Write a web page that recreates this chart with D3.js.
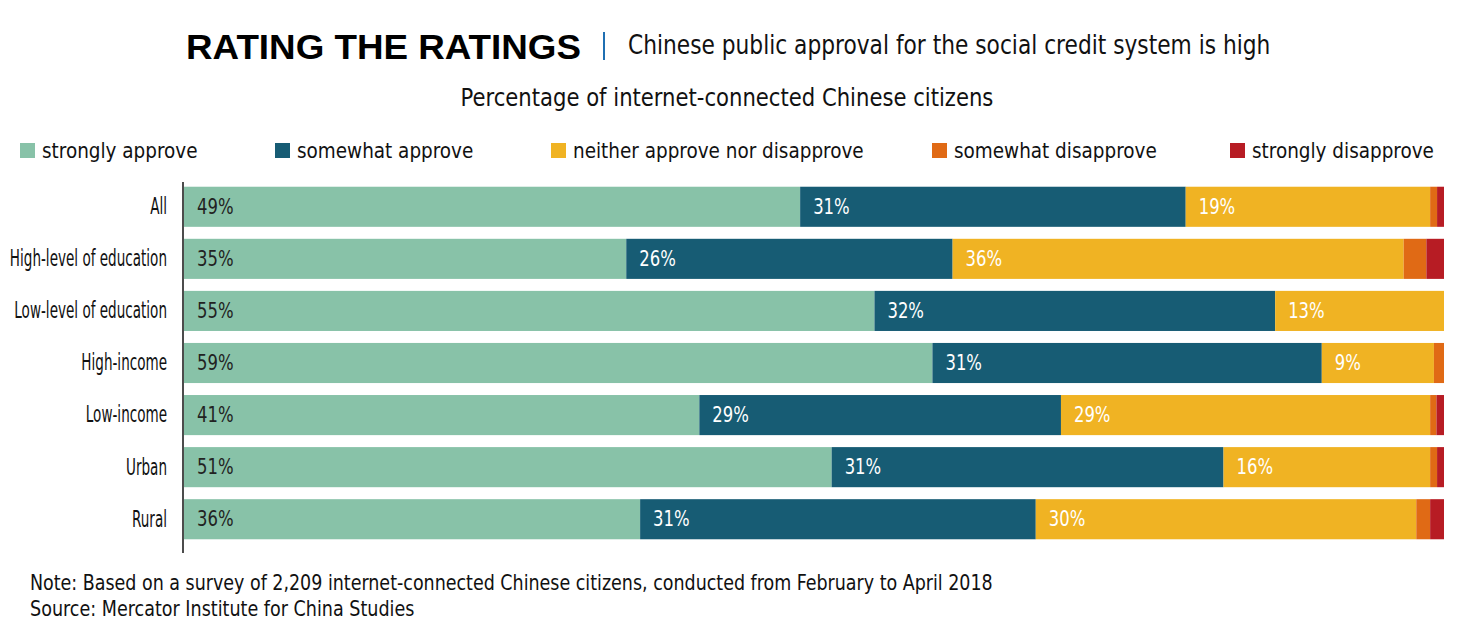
<!DOCTYPE html>
<html>
<head>
<meta charset="utf-8">
<script src="https://cdn.jsdelivr.net/npm/d3@7"></script>
<style>
  body { margin: 0; background: #fff; }
  svg { display: block; }
</style>
</head>
<body>
<svg id="chart" width="1467" height="629"></svg>
<script>
// groups, top to bottom
var groups = ["All", "High-level of education", "Low-level of education", "High-income", "Low-income", "Urban", "Rural"];

// answers, stacked left to right
var answers = ["strongly approve", "somewhat approve", "neither approve nor disapprove", "somewhat disapprove", "strongly disapprove"];
var colors = ["#88c2a8", "#175c74", "#f0b323", "#e06a15", "#b71c24"];

// shares in percent (one per group)
var stronglyApprove    = [48.9, 35.1, 54.8, 59.4, 40.9, 51.4, 36.2];
var somewhatApprove    = [30.6, 25.9, 31.8, 30.9, 28.7, 31.1, 31.4];
var neither            = [19.4, 35.8, 13.4, 8.9, 29.3, 16.4, 30.2];
var somewhatDisapprove = [0.55, 1.8, 0, 0.8, 0.5, 0.55, 1.1];
var stronglyDisapprove = [0.55, 1.4, 0, 0, 0.6, 0.55, 1.1];

var series = [stronglyApprove, somewhatApprove, neither, somewhatDisapprove, stronglyDisapprove];

var rows = groups.map(function (g, i) {
  var r = { group: g };
  answers.forEach(function (a, j) { r[a] = series[j][i]; });
  return r;
});

var svg = d3.select("#chart");
var narrow = "'DejaVu Sans Condensed', 'Liberation Sans Narrow', sans-serif";

// squeeze text horizontally (around its x anchor) to mimic the condensed face of the original
function squeeze(sel, k) {
  sel.each(function () {
    var t = d3.select(this);
    var x0 = +t.attr("x") || 0;
    var old = t.attr("transform") || "";
    t.attr("transform", old + " translate(" + x0 + ",0) scale(" + k + ",1) translate(" + (-x0) + ",0)");
  });
}

var margin = { top: 182, left: 184, right: 23, bottom: 76 };
var width = 1467 - margin.left - margin.right;

var x = d3.scaleLinear().domain([0, 100]).range([margin.left, margin.left + width]);
var y = d3.scaleBand().domain(groups).range([181, 545]).paddingInner(0.23).paddingOuter(0.11);

// title
svg.append("text")
  .attr("x", 186).attr("y", 59)
  .style("font-family", "'Liberation Sans', Arial, sans-serif")
  .style("font-weight", "bold")
  .style("font-size", "35px")
  .attr("textLength", 395)
  .attr("lengthAdjust", "spacingAndGlyphs")
  .text("RATING THE RATINGS");

svg.append("line")
  .attr("x1", 604).attr("x2", 604).attr("y1", 32).attr("y2", 60)
  .style("stroke", "#1f6fb2").style("stroke-width", 2);

svg.append("text")
  .attr("x", 628).attr("y", 54)
  .style("font-family", narrow)
  .style("font-size", "26px")
  .attr("fill", "#111")
  .text("Chinese public approval for the social credit system is high")
  .call(squeeze, 0.93);

svg.append("text")
  .attr("x", 727).attr("y", 106)
  .attr("text-anchor", "middle")
  .style("font-family", narrow)
  .style("font-size", "24px")
  .attr("fill", "#111")
  .text("Percentage of internet-connected Chinese citizens")
  .call(squeeze, 0.98);

// legend
var legendX = [20, 275, 551, 932, 1230];
var legend = svg.append("g").selectAll("g")
  .data(answers).enter().append("g")
  .attr("transform", function (d, i) { return "translate(" + legendX[i] + ",143)"; });

legend.append("rect")
  .attr("width", 15).attr("height", 15)
  .attr("fill", function (d, i) { return colors[i]; });

legend.append("text")
  .attr("x", 22).attr("y", 15)
  .style("font-family", narrow)
  .style("font-size", "22px")
  .attr("fill", "#111")
  .text(function (d) { return d; })
  .call(squeeze, 0.93);

// stacked bars
var stack = d3.stack().keys(answers)(rows);

var layer = svg.append("g").selectAll("g")
  .data(stack).enter().append("g")
  .attr("fill", function (d, i) { return colors[i]; });

layer.selectAll("rect")
  .data(function (d) { return d; }).enter().append("rect")
  .attr("x", function (d) { return x(d[0]); })
  .attr("y", function (d) { return y(d.data.group); })
  .attr("width", function (d) { return x(d[1]) - x(d[0]); })
  .attr("height", y.bandwidth());

// value labels for the three big answers
var labelColor = ["#222", "#fff", "#fff"];
stack.slice(0, 3).forEach(function (s, i) {
  svg.append("g").selectAll("text")
    .data(s).enter().append("text")
    .attr("x", function (d) { return x(d[0]) + 13; })
    .attr("y", function (d) { return y(d.data.group) + y.bandwidth() / 2 + 7; })
    .style("font-family", narrow)
    .style("font-size", "21px")
    .attr("fill", labelColor[i])
    .text(function (d) { return Math.round(d[1] - d[0]) + "%"; })
    .call(squeeze, 0.87);
});

// axis with group names
var yAxis = svg.append("g")
  .attr("transform", "translate(183,0)")
  .call(d3.axisLeft(y).tickSize(0).tickPadding(16));

yAxis.select(".domain").remove();
yAxis.selectAll("text")
  .style("font-family", narrow)
  .style("font-size", "23px")
  .attr("fill", "#111")
  .call(squeeze, 0.655);

svg.append("line")
  .attr("x1", 183).attr("x2", 183).attr("y1", 182).attr("y2", 553)
  .style("stroke", "#111").style("stroke-width", 1.5);

// notes
svg.append("text")
  .attr("x", 30).attr("y", 590)
  .style("font-family", narrow)
  .style("font-size", "21px")
  .attr("fill", "#111")
  .text("Note: Based on a survey of 2,209 internet-connected Chinese citizens, conducted from February to April 2018")
  .call(squeeze, 0.926);

svg.append("text")
  .attr("x", 30).attr("y", 616)
  .style("font-family", narrow)
  .style("font-size", "21px")
  .attr("fill", "#111")
  .text("Source: Mercator Institute for China Studies")
  .call(squeeze, 0.93);
</script>
</body>
</html>
